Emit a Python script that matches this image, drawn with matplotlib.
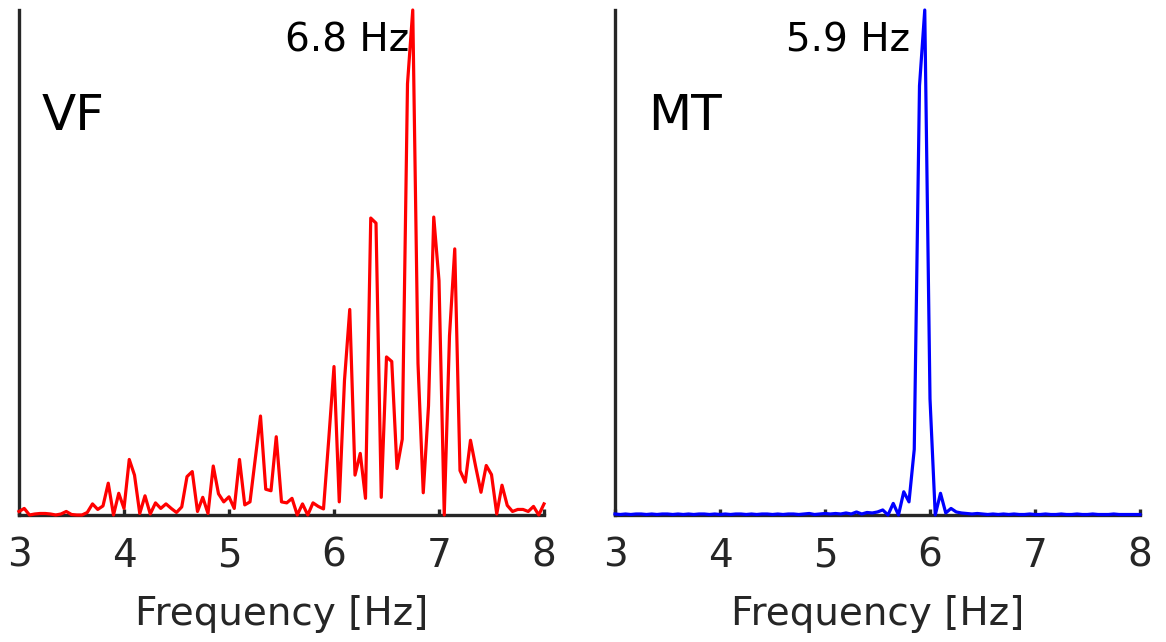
import numpy as np
import matplotlib
matplotlib.use("Agg")
import matplotlib.pyplot as plt

# частотная сетка 3..8 Гц, шаг 0.05 Гц
freq = np.linspace(3, 8, 101)

# нормированный спектр VF
vf = [0.007, 0.013, 0.0, 0.002, 0.003, 0.003, 0.002, 0.0, 0.002, 0.007,
      0.001, 0.0, 0.0, 0.005, 0.022, 0.011, 0.018, 0.063, 0.0, 0.043,
      0.013, 0.110, 0.079, 0.003, 0.038, 0.002, 0.024, 0.013, 0.022, 0.013,
      0.005, 0.016, 0.076, 0.086, 0.007, 0.035, 0.003, 0.097, 0.042, 0.026,
      0.036, 0.013, 0.110, 0.020, 0.026, 0.111, 0.196, 0.051, 0.048, 0.155,
      0.026, 0.024, 0.033, 0.0, 0.022, 0.0, 0.024, 0.017, 0.012, 0.150,
      0.294, 0.026, 0.267, 0.407, 0.079, 0.122, 0.033, 0.588, 0.578, 0.035,
      0.313, 0.304, 0.092, 0.150, 0.854, 1.0, 0.300, 0.044, 0.216, 0.590,
      0.464, 0.0, 0.355, 0.527, 0.088, 0.065, 0.148, 0.095, 0.045, 0.098,
      0.080, 0.002, 0.059, 0.019, 0.007, 0.011, 0.011, 0.007, 0.017, 0.0,
      0.022]

# нормированный спектр MT
mt = [0.002, 0.001, 0.002, 0.001, 0.002, 0.002, 0.001, 0.002, 0.001, 0.002,
      0.002, 0.001, 0.002, 0.001, 0.002, 0.001, 0.002, 0.002, 0.001, 0.002,
      0.001, 0.002, 0.001, 0.002, 0.002, 0.001, 0.002, 0.001, 0.002, 0.002,
      0.001, 0.002, 0.001, 0.002, 0.002, 0.001, 0.002, 0.003, 0.001, 0.002,
      0.003, 0.002, 0.003, 0.002, 0.004, 0.002, 0.006, 0.002, 0.005, 0.004,
      0.006, 0.010, 0.0, 0.023, 0.0, 0.046, 0.026, 0.130, 0.850, 1.0,
      0.230, 0.0, 0.043, 0.004, 0.013, 0.006, 0.004, 0.003, 0.002, 0.003,
      0.002, 0.001, 0.002, 0.001, 0.002, 0.001, 0.002, 0.001, 0.001, 0.002,
      0.001, 0.001, 0.002, 0.001, 0.001, 0.002, 0.001, 0.001, 0.002, 0.001,
      0.001, 0.002, 0.001, 0.001, 0.001, 0.002, 0.001, 0.001, 0.001, 0.001,
      0.001]

names = ["VF", "MT"]
colors = ["#ff0000", "#0000ff"]
peak_labels = ["6.8 Hz", "5.9 Hz"]
xticks = [3, 4, 5, 6, 7, 8]

fig = plt.figure(figsize=(11.66, 6.42), dpi=100)
ax1 = fig.add_axes([19 / 1166, 127 / 642, 525 / 1166, 505 / 642])
ax2 = fig.add_axes([615 / 1166, 127 / 642, 525 / 1166, 505 / 642])

label_x = [0.743, 0.562]
name_x = [0.044, 0.063]

for ax, y, name, c, pl, lx, nx in zip([ax1, ax2], [vf, mt], names, colors,
                                      peak_labels, label_x, name_x):
    ax.plot(freq, y, color=c, linewidth=2.3, clip_on=False, zorder=3)
    ax.set_xlim(3, 8)
    ax.set_ylim(0, 1.0)
    ax.set_xticks(xticks)
    ax.set_yticks([])
    for s in ["top", "right"]:
        ax.spines[s].set_visible(False)
    for s in ["left", "bottom"]:
        ax.spines[s].set_color("#262626")
        ax.spines[s].set_linewidth(2.4)
    ax.tick_params(axis="x", direction="in", length=4, width=2.4,
                   color="#262626", labelsize=28, pad=15.5,
                   labelcolor="#262626")
    ax.set_xlabel("Frequency [Hz]", fontsize=28, color="#262626", labelpad=15)
    ax.text(lx, 0.917, pl, transform=ax.transAxes, ha="right",
            va="baseline", fontsize=28, color="black")
    ax.text(nx, 0.762, name, transform=ax.transAxes, ha="left",
            va="baseline", fontsize=36, color="black")

fig.savefig("out.png", dpi=100)
